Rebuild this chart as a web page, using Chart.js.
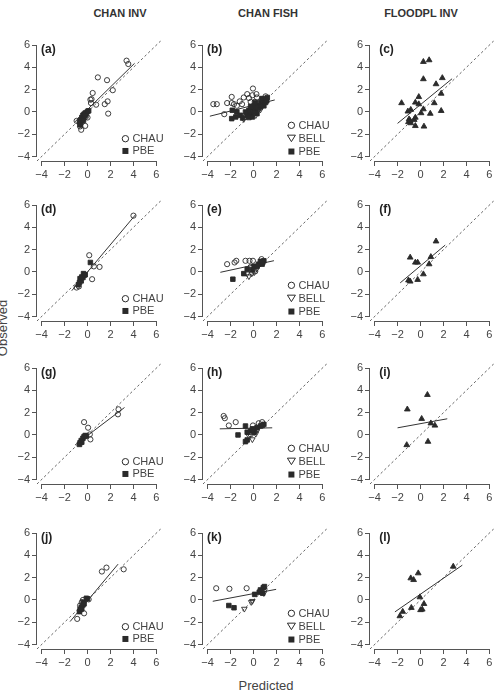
<!DOCTYPE html>
<html>
<head>
<meta charset="utf-8">
<script src="https://cdn.jsdelivr.net/npm/chart.js@4.4.1/dist/chart.umd.min.js"></script>
<style>
  body { margin: 0; width: 499px; height: 692px; overflow: hidden; background: #fff; position: relative;
         font-family: "Liberation Sans", Arial, sans-serif; color: #333; }
  canvas { position: absolute; }
  .title { position: absolute; top: 7px; font-size: 11px; font-weight: bold; color: #333; transform: translateX(-50%); white-space: nowrap; }
  .axtitle { position: absolute; font-size: 13px; color: #444; white-space: nowrap; }
</style>
</head>
<body>
<div class="title" style="left:120px">CHAN INV</div>
<div class="title" style="left:268px">CHAN FISH</div>
<div class="title" style="left:421px">FLOODPL INV</div>
<div class="axtitle" style="left:266px;top:678px;transform:translateX(-50%)">Predicted</div>
<div class="axtitle" style="left:2px;top:328px;transform:translate(-50%,-50%) rotate(-90deg)">Observed</div>

<script>
// tick labels shared by every panel
const tickValues = [-4, -2, 0, 2, 4, 6]

// points, [predicted, observed]
const aCHAU = [[3.4,4.6],[3.55,4.3],[0.9,3.1],[1.7,2.85],[2.2,1.95],[0.45,1.7],[0.25,1.1],[0.35,1.15],[0.3,0.8],[0.75,0.65],[1.5,0.7],[1.75,0.95],[1.8,-0.15],[-0.15,-0.45],[-0.95,-0.8],[-0.65,-1.3],[-0.55,-1.6],[-0.2,-1.25],[0,-0.5],[-0.4,-0.45]]
const aPBE = [[-0.7,-0.9],[-0.6,-0.7],[-0.5,-0.5],[-0.4,-0.3],[-0.3,-0.2],[-0.2,-0.1],[0,0.05],[-0.1,-0.1],[-0.5,-0.8],[-0.6,-1.0],[-0.4,-0.6],[-0.3,-0.4],[-0.2,-0.3],[0.1,0.1],[-0.65,-1.15],[-0.35,-0.75]]
const aFit = [-1.1, 4.1, 0.22, 1.01] // x from, x to, intercept, slope

const bCHAU = [[-3.5,0.7],[-3.2,0.7],[-2.55,-0.2],[-2.3,0.8],[-1.9,1.35],[-1.9,0.8],[-1.7,0.7],[-1.45,0.55],[-1.2,0.95],[-1.0,0.7],[-0.85,1.3],[-0.55,1.6],[-0.4,1.25],[-0.05,2.1],[-0.1,1.5],[0.25,1.6],[0.3,1.3],[-0.25,0.9],[0.1,0.9],[0.75,1.15],[1.05,1.4],[-0.7,-0.45]]
const bBELL = [[-0.85,-0.65],[0.2,-0.3],[0.6,0.2]]
const bPBE = [[-1.85,0.15],[-1.9,-0.6],[-1.55,-0.45],[-1.45,0],[-1.15,-0.3],[-0.95,-0.55],[-0.55,-0.3],[-0.25,-0.15],[-0.1,0.3],[0.05,0.55],[0.15,0.85],[0.45,0.55],[0.6,0.85],[0.75,0.7],[0.9,1.0],[1.05,1.15],[1.2,1.3],[0.15,0.15],[0.45,0.3],[-0.4,0.15],[-0.1,-0.45],[-0.7,0],[0.6,0.45],[0.9,0.55],[0.3,-0.15],[0.05,0],[1.05,0.85],[-0.4,-0.5],[0.3,0.4],[-0.25,0.5],[0.75,1.2],[1.15,1.0]]
const bFit = [-3.8, 1.85, 0.6, 0.258]

const cFLOOD = [[0.25,4.5],[0.75,4.65],[0.25,2.95],[1.9,3.05],[1.35,2.5],[1.8,1.65],[-0.15,1.35],[-1.65,0.8],[-0.45,0.85],[-0.15,0.7],[1.2,0.8],[-0.85,0.2],[-1.1,0.05],[0.25,0.25],[0.05,-0.1],[1.8,0.1],[0.85,-0.15],[-1.0,-0.65],[-0.9,-0.8],[-1.05,-0.9],[-0.45,-0.5],[-0.55,-0.7],[-0.85,-1.0],[-0.45,-1.25],[0.3,-1.3]]
const cFit = [-2.0, 2.75, 0.66, 0.843]

const dCHAU = [[4.0,5.05],[0.15,1.5],[0.55,0.5],[1.05,0.45],[0.4,-0.65],[-0.95,-1.4],[-0.75,-1.3]]
const dPBE = [[0.25,0.85],[-0.35,-0.15],[-0.3,-0.3],[-0.5,-0.45],[-0.65,-0.6],[-0.55,-0.8],[-0.7,-0.95],[-0.8,-1.15],[-0.4,-0.5],[-0.2,-0.25]]
const dFit = [-1.37, 4.18, 0.0, 1.227]

const eCHAU = [[-2.3,0.7],[-1.65,0.85],[-1.5,1.0],[-0.7,1.0],[-0.35,1.0],[-0.05,1.0],[0.7,1.15],[-0.25,0.45],[0.15,0.05]]
const eBELL = [[-0.4,-0.4],[-0.15,-0.15],[0.05,-0.05],[-0.55,-0.15],[0.3,0.3]]
const ePBE = [[-1.8,-0.65],[-0.85,-0.15],[-0.55,0.25],[0.05,0.5],[0.45,0.7],[0.6,0.95],[0.9,1.0],[0.75,0.7],[0.3,0.5],[-0.1,0.2],[0.8,0.85]]
const eFit = [-2.89, 1.78, 0.613, 0.223]

const fFLOOD = [[1.35,2.75],[-0.9,1.3],[-0.45,0.85],[-0.25,0.85],[0.9,1.35],[0.75,0.7],[0.25,-0.2],[-0.25,-0.7],[-1.05,-0.75],[-0.9,-0.85]]
const fFit = [-1.77, 2.15, 0.55, 0.865]

const gCHAU = [[2.65,1.85],[2.7,2.3],[-0.3,1.15],[0.05,0.65],[0.2,0.05],[0.25,-0.4]]
const gPBE = [[-0.2,-0.05],[-0.3,-0.15],[-0.4,-0.3],[-0.55,-0.5],[-0.65,-0.7],[-0.5,-0.65],[-0.1,-0.1],[-0.7,-0.85]]
const gFit = [-1.08, 3.22, -0.055, 0.781]

const hCHAU = [[-2.6,1.7],[-2.5,1.5],[-2.15,0.85],[-1.55,1.15],[-0.05,0.85],[0.45,1.05],[0.75,1.15],[0.3,0.5],[0.1,0.25],[-0.25,0.05]]
const hBELL = [[-0.1,-0.4],[-0.4,-0.1],[0.2,0.1]]
const hPBE = [[-1.35,0],[-0.7,0.8],[-0.7,-0.6],[-0.55,-0.45],[-0.25,0.35],[-0.55,0.25],[0.05,0.25],[0.3,0.65],[0.6,0.8],[0.9,0.95],[0.75,0.85],[-0.1,0.55]]
const hFit = [-2.94, 1.63, 0.607, 0.02]

const iFLOOD = [[0.6,3.6],[-1.15,2.3],[0.1,1.45],[0.9,1.05],[1.25,0.85],[-1.2,-0.9],[0.65,-0.6]]
const iFit = [-2.0, 2.33, 1.014, 0.187]

const jCHAU = [[1.25,2.55],[1.65,2.9],[3.15,2.75],[-0.9,-1.7],[-0.3,-1.2],[-0.5,-0.2],[-0.4,0],[0.1,0.05],[-0.65,-0.5]]
const jPBE = [[-0.1,0.15],[-0.35,-0.2],[-0.4,-0.45],[-0.55,-0.65],[-0.65,-0.85],[-0.7,-1.05],[-0.5,-0.8],[-0.3,-0.35],[0,0.1]]
const jFit = [-1.52, 2.66, -0.067, 1.232]

const kCHAU = [[-3.25,1.05],[-2.1,1.0],[-0.6,1.05],[0.95,0.95]]
const kBELL = [[-0.8,-0.8],[-0.2,-0.2],[-0.1,-0.1],[0.9,0.6]]
const kPBE = [[-2.15,-0.5],[-1.7,-0.7],[0.1,0.5],[0.5,0.7],[0.7,0.8],[0.85,1.1],[0.95,1.2],[0.8,0.6],[0.6,0.9]]
const kFit = [-3.55, 1.97, 0.568, 0.194]

const lFLOOD = [[2.85,3.0],[-0.2,2.4],[-0.85,1.95],[-0.6,1.8],[-0.05,0.25],[0.3,-0.35],[-0.8,-0.7],[-1.55,-1.05],[-1.8,-1.45],[0,-0.9],[0.15,-0.85]]
const lFit = [-2.23, 3.64, 0.52, 0.714]

const panels = [
  {label: '(a)', col: 0, row: 0, groups: [['CHAU', aCHAU], ['PBE', aPBE]], fit: aFit},
  {label: '(b)', col: 1, row: 0, groups: [['CHAU', bCHAU], ['BELL', bBELL], ['PBE', bPBE]], fit: bFit},
  {label: '(c)', col: 2, row: 0, groups: [['FLOOD', cFLOOD]], fit: cFit},
  {label: '(d)', col: 0, row: 1, groups: [['CHAU', dCHAU], ['PBE', dPBE]], fit: dFit},
  {label: '(e)', col: 1, row: 1, groups: [['CHAU', eCHAU], ['BELL', eBELL], ['PBE', ePBE]], fit: eFit},
  {label: '(f)', col: 2, row: 1, groups: [['FLOOD', fFLOOD]], fit: fFit},
  {label: '(g)', col: 0, row: 2, groups: [['CHAU', gCHAU], ['PBE', gPBE]], fit: gFit},
  {label: '(h)', col: 1, row: 2, groups: [['CHAU', hCHAU], ['BELL', hBELL], ['PBE', hPBE]], fit: hFit},
  {label: '(i)', col: 2, row: 2, groups: [['FLOOD', iFLOOD]], fit: iFit},
  {label: '(j)', col: 0, row: 3, groups: [['CHAU', jCHAU], ['PBE', jPBE]], fit: jFit},
  {label: '(k)', col: 1, row: 3, groups: [['CHAU', kCHAU], ['BELL', kBELL], ['PBE', kPBE]], fit: kFit},
  {label: '(l)', col: 2, row: 3, groups: [['FLOOD', lFLOOD]], fit: lFit}
]

// layout
const colLeft = [7, 173, 340]
const rowTop = [32, 192, 355, 520]
const canvasW = 160
const canvasH = 152
const yAxisW = 30
const xAxisH = 23
const lim = [-4.4, 6.4]
const fontFamily = '"Liberation Sans", Arial, sans-serif'
const ink = '#2a2a2a'

const markerStyle = {
  CHAU: {pointStyle: 'circle', radius: 2.6, rotation: 0, fill: false},
  BELL: {pointStyle: 'triangle', radius: 3.2, rotation: 180, fill: false},
  PBE: {pointStyle: 'rect', radius: 3.2, rotation: 0, fill: true},
  FLOOD: {pointStyle: 'triangle', radius: 3.3, rotation: 0, fill: true}
}

function drawMarker(ctx, name, x, y) {
  ctx.save()
  ctx.strokeStyle = ink
  ctx.fillStyle = ink
  ctx.lineWidth = 1
  ctx.beginPath()
  if (name === 'CHAU') {
    ctx.arc(x, y, 3.2, 0, Math.PI * 2)
    ctx.stroke()
  } else if (name === 'BELL') {
    ctx.moveTo(x - 4, y - 3)
    ctx.lineTo(x + 4, y - 3)
    ctx.lineTo(x, y + 3.5)
    ctx.closePath()
    ctx.stroke()
  } else {
    ctx.rect(x - 3, y - 3, 6, 6)
    ctx.fill()
  }
  ctx.restore()
}

const rPanel = {
  id: 'rPanel',
  afterDraw(chart, args, opts) {
    const ctx = chart.ctx
    const xs = chart.scales.x
    const ys = chart.scales.y
    const area = chart.chartArea
    ctx.save()
    // axis lines from the first to the last tick, R style
    ctx.strokeStyle = '#555'
    ctx.lineWidth = 1
    ctx.beginPath()
    const lx = Math.round(area.left) - 0.5
    ctx.moveTo(lx, ys.getPixelForValue(tickValues[0]))
    ctx.lineTo(lx, ys.getPixelForValue(tickValues[tickValues.length - 1]))
    const by = Math.round(area.bottom) + 0.5
    ctx.moveTo(xs.getPixelForValue(tickValues[0]), by)
    ctx.lineTo(xs.getPixelForValue(tickValues[tickValues.length - 1]), by)
    ctx.stroke()
    // panel letter
    ctx.fillStyle = '#222'
    ctx.font = 'bold 12px ' + fontFamily
    ctx.textBaseline = 'middle'
    ctx.textAlign = 'left'
    ctx.fillText(opts.label, xs.getPixelForValue(opts.labelX), ys.getPixelForValue(5.6))
    // legend
    const names = opts.legend
    const rows = names.length === 3 ? [-1.2, -2.35, -3.55] : [-2.4, -3.5]
    ctx.font = '11px ' + fontFamily
    ctx.fillStyle = '#444'
    names.forEach((name, i) => {
      const mx = xs.getPixelForValue(3.3)
      const my = ys.getPixelForValue(rows[i])
      drawMarker(ctx, name, mx, my)
      ctx.fillStyle = '#444'
      ctx.fillText(name, mx + 7, my + 0.5)
    })
    ctx.restore()
  }
}

function axisOptions(horizontal) {
  return {
    type: 'linear',
    min: lim[0],
    max: lim[1],
    afterBuildTicks: (scale) => { scale.ticks = tickValues.map(v => ({value: v})) },
    afterFit: (scale) => {
      if (horizontal) scale.height = xAxisH
      else scale.width = yAxisW
    },
    grid: {display: true, drawOnChartArea: false, drawTicks: true, tickLength: 5, color: '#555', lineWidth: 1},
    border: {display: false},
    ticks: {
      autoSkip: false,
      maxRotation: 0,
      padding: 2,
      color: '#444',
      font: {family: fontFamily, size: 11},
      callback: (v) => (v < 0 ? '\u2212' + Math.abs(v) : String(v))
    }
  }
}

for (const panel of panels) {
  const canvas = document.createElement('canvas')
  canvas.width = canvasW
  canvas.height = canvasH
  canvas.style.left = colLeft[panel.col] + 'px'
  canvas.style.top = rowTop[panel.row] + 'px'
  canvas.style.width = canvasW + 'px'
  canvas.style.height = canvasH + 'px'
  document.body.appendChild(canvas)

  const datasets = []
  for (const [name, points] of panel.groups) {
    const st = markerStyle[name]
    datasets.push({
      label: name,
      data: points.map(p => ({x: p[0], y: p[1]})),
      pointStyle: st.pointStyle,
      pointRadius: st.radius,
      pointRotation: st.rotation,
      pointBorderWidth: 0.9,
      pointBorderColor: ink,
      pointBackgroundColor: st.fill ? ink : 'rgba(0,0,0,0)',
      pointHoverRadius: st.radius,
      order: 0
    })
  }
  const fit = panel.fit
  datasets.push({
    label: 'fit',
    data: [{x: fit[0], y: fit[2] + fit[3] * fit[0]}, {x: fit[1], y: fit[2] + fit[3] * fit[1]}],
    showLine: true,
    pointRadius: 0,
    borderColor: '#333',
    borderWidth: 1,
    order: 1
  })
  datasets.push({
    label: '1:1',
    data: [{x: lim[0], y: lim[0]}, {x: lim[1], y: lim[1]}],
    showLine: true,
    pointRadius: 0,
    borderColor: '#666',
    borderWidth: 1,
    borderDash: [2.5, 2.5],
    order: 2
  })

  const legendNames = panel.groups.map(g => g[0]).filter(n => n !== 'FLOOD')
  new Chart(canvas, {
    type: 'scatter',
    data: {datasets: datasets},
    options: {
      responsive: false,
      animation: false,
      devicePixelRatio: 1,
      layout: {padding: {top: 5, right: 6, left: 0, bottom: 0}},
      plugins: {
        legend: {display: false},
        tooltip: {enabled: false},
        rPanel: {label: panel.label, labelX: panel.col === 2 ? -3.6 : -4.05, legend: legendNames}
      },
      scales: {x: axisOptions(true), y: axisOptions(false)}
    },
    plugins: [rPanel]
  })
}
</script>
</body>
</html>
